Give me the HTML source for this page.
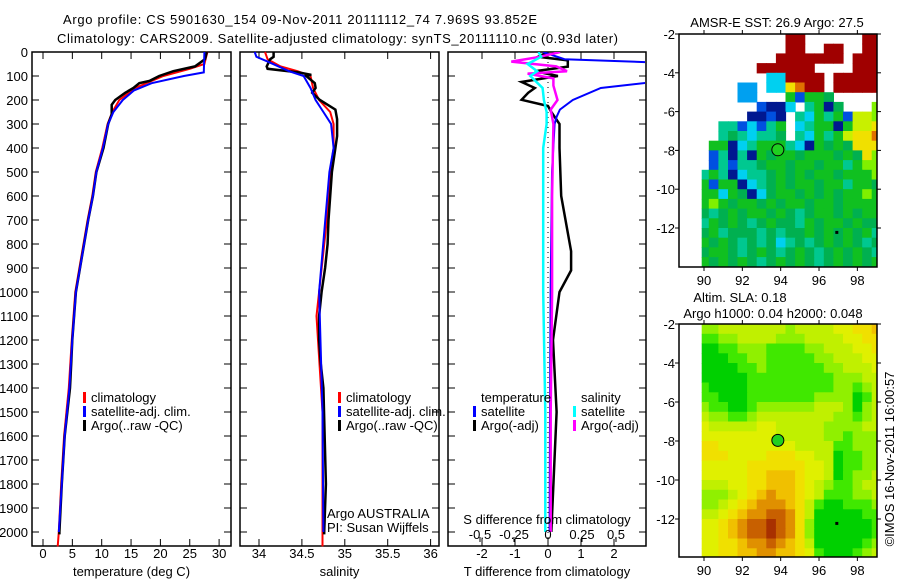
<!DOCTYPE html>
<html><head><meta charset="utf-8"><style>
body{margin:0;background:#fff;}
svg{display:block;font-family:"Liberation Sans",sans-serif;font-size:13px;}
</style></head><body>
<svg id="fig" width="900" height="580" viewBox="0 0 900 580" xmlns="http://www.w3.org/2000/svg">
<rect width="900" height="580" fill="#fff"/>
<text x="63" y="24" textLength="474">Argo profile: CS 5901630_154 09-Nov-2011 20111112_74 7.969S 93.852E</text>
<text x="57" y="43" textLength="561">Climatology: CARS2009. Satellite-adjusted climatology: synTS_20111110.nc (0.93d later)</text>
<g id="g"></g>
</svg>
<script>
// ---- depth grid ----
const depthTicks=[0,100,200,300,400,500,600,700,800,900,1000,1100,1200,1300,1400,1500,1600,1700,1800,1900,2000];
// ---- temperature panel ----
const tempTicks=[0,5,10,15,20,25,30];
const tArgoDepth=[0,30,60,80,100,120,130,150,170,200,220,260,300,400,500,600,700,800,900,1000,1100,1200,1300,1400,1600,1800,2000,2010];
const tArgo=[27.9,27.6,25.9,22.2,19.8,18.2,16.4,15.4,14.0,12.3,11.7,11.7,11.1,10.3,9.1,8.5,7.7,7.0,6.3,5.6,5.3,5.0,4.8,4.6,3.7,3.2,2.8,2.8];
const tClimDepth=[0,50,70,100,150,200,250,300,400,500,600,700,800,900,1000,1200,1400,1600,1800,2000,2060];
const tClim=[28.0,27.5,25.0,20.5,15.7,13.0,11.8,11.0,10.1,9.0,8.4,7.6,6.9,6.2,5.5,4.9,4.4,3.6,3.1,2.7,2.5];
const tSatDepth=[0,85,100,130,160,200,250,300,400,500,600,700,800,900,1000,1200,1400,1600,1800,2000];
const tSat=[27.5,27.4,24.0,18.5,15.5,13.6,12.0,11.1,10.2,9.1,8.5,7.7,7.0,6.3,5.6,5.0,4.5,3.7,3.2,2.7];
// ---- salinity panel ----
const salTicks=[34,34.5,35,35.5,36];
const sArgoDepth=[0,20,30,60,70,85,95,100,130,150,170,200,240,280,350,400,500,600,700,800,900,1000,1100,1200,1300,1400,1800,2000,2010];
const sArgo=[34.17,34.17,34.13,34.09,34.10,34.46,34.61,34.55,34.65,34.66,34.62,34.71,34.89,34.91,34.91,34.89,34.85,34.83,34.81,34.80,34.77,34.73,34.70,34.70,34.72,34.75,34.78,34.76,34.76];
const sClimDepth=[0,30,60,80,100,150,200,250,300,400,500,700,1000,1100,1500,2000,2060];
const sClim=[34.07,34.10,34.25,34.45,34.60,34.63,34.70,34.83,34.87,34.87,34.83,34.79,34.70,34.67,34.74,34.74,34.74];
const sSatDepth=[0,20,40,80,100,150,200,250,300,400,500,1000,1500,2000];
const sSat=[33.95,33.97,34.10,34.35,34.52,34.60,34.66,34.75,34.84,34.87,34.82,34.70,34.74,34.75];
// ---- difference panel ----
const dtTicks=[-2,-1,0,1,2];
const dsTicks=[-0.5,-0.25,0,0.25,0.5];
const dsTickLabels=["-0.5","-0.25","0","0.25","0.5"];
const dTSatDepth=[0,30,45,100,125,150,200,240,270,300,500,1000,1500,2000];
const dTSat=[-0.15,0.5,3.5,4.0,3.2,1.6,0.75,0.36,0.26,0.2,0.12,0.08,0.06,0.05];
const dTArgoDepth=[0,20,35,61,80,100,125,150,170,199,225,250,300,400,600,830,910,1000,1200,1500,2000];
const dTArgo=[0,-0.3,0.6,0.6,-0.4,0.3,-0.8,-0.4,-0.6,-0.8,0,0.1,0.35,0.35,0.4,0.7,0.7,0.35,0.15,0.26,0.1];
const dSSatDepth=[0,20,50,80,100,150,200,250,300,400,1000,1500,2000];
const dSSat=[-0.07,-0.05,-0.15,-0.08,-0.13,-0.04,-0.03,-0.01,-0.01,-0.035,-0.035,-0.02,-0.02];
const dSArgoDepth=[0,20,40,60,80,90,110,140,200,240,300,600,1000,1500,2000];
const dSArgo=[0.09,-0.06,-0.27,0.06,0.14,-0.15,0.04,0.04,0.07,0.02,0.04,0.03,0.03,0.02,0.02];
// ---- maps ----
const lonTicks=[90,92,94,96,98];
const latTicks=[-2,-4,-6,-8,-10,-12];
const sstTitle="AMSR-E SST: 26.9 Argo: 27.5";
const sstGrid=[
".........RR......RR",
".........RR..RR..RR",
"........RRRRRRR.RRR",
"......RRRRRR....RRR",
".......ccRRRR.RRRRR",
"....bb.ccYORR.RRRRR",
"....bb...GBGGg.....",
"......BNNc.tGNg...L",
".....NNBN.tcGtGByyL",
"..ttBcBtG.ctGGNGyyY",
"..tgtcttg.tcGtGyYYO",
".GGNctGGGtcNGgGgYYY",
".BtNtNGgGGgGGGgGgYL",
".BtBttgGGgGGgGGtGLL",
"tGtNcttgGgGgGGgGGGL",
"GBGGNctgGgGGgGGtGGg",
"GGcGgNcgGGgGgGgGGLG",
"GLGgGGgGgGGgGGgGGGG",
"gtgGgGGgGgtgGGgGgGG",
"tGgGgtgGggtGgGGgGgg",
"gGtgggtgtggGgGgGgGt",
"GgGgtgtgctgtgGgGgtg",
"gGGgtgGgtgGgtgGgGgt",
"GgGgGgtgGgGgtgGgGgG"];
const slaGrid=[
"3344444443444455667",
"2233444433344445566",
"1122333222233444556",
"1112233222223344455",
"1111223222222334445",
"1111122222222233344",
"2111122222222233234",
"2211122222223333124",
"3221123333334443134",
"4332234444444433234",
"5444445544444333344",
"5555555544444332333",
"6655555555444422333",
"6665555666554412233",
"5555566666655412233",
"5555566777655412334",
"4445566777654322344",
"3334567877654222334",
"3345678887642112223",
"4456788998641111122",
"5567899A98631111112",
"5567899A98631111112",
"5566788987641111123",
"5566778877652111234"];
const argoLon=93.852, argoLat=-7.969;

const NS="http://www.w3.org/2000/svg";
const G=document.getElementById('g');
function mk(tag,attrs,parent){const e=document.createElementNS(NS,tag);for(const k in attrs)e.setAttribute(k,attrs[k]);(parent||G).appendChild(e);return e;}
function txt(s,x,y,anchor,parent){const t=mk('text',{x:x,y:y,'text-anchor':anchor||'start'},parent);t.textContent=s;return t;}

const Y0=52, DPX=0.24, YB=546;
const yD=d=>Y0+d*DPX;

function panel(name,x0,x1,xf,ticks,labels,xlabel){
  const g=mk('g',{});
  
  
  const fr=mk('rect',{x:x0,y:Y0,width:x1-x0,height:YB-Y0,fill:'none',stroke:'#000','stroke-width':1.5},g);
  
  
  depthTicks.forEach(d=>{
    mk('line',{x1:x0,x2:x0+7,y1:yD(d),y2:yD(d),stroke:'#000'},g);
    mk('line',{x1:x1,x2:x1-7,y1:yD(d),y2:yD(d),stroke:'#000'},g);
  });
  if(ticks){ticks.forEach((v,i)=>{
    const x=xf(v);
    mk('line',{x1:x,x2:x,y1:YB,y2:YB-7,stroke:'#000'},g);
    mk('line',{x1:x,x2:x,y1:Y0,y2:Y0+7,stroke:'#000'},g);
    const t=txt(labels?labels[i]:String(v),x,558,'middle',g);
    
    
  });}
  const xl=txt(xlabel,(x0+x1)/2,576,'middle',g);
  
  
  return g;
}
function line(g,depths,vals,xf,color,w,name){
  const pts=depths.map((d,i)=>xf(vals[i]).toFixed(1)+','+yD(d).toFixed(1)).join(' ');
  const p=mk('polyline',{points:pts,fill:'none',stroke:color,'stroke-width':w},g);
  
  
}
function legend(g,x,y,color,label,name){
  const r=mk('rect',{x:x,y:y-10,width:3,height:11,fill:color},g);
  
  
  const t=txt(label,x+8,y,'start',g);
  
  
}

depthTicks.forEach(d=>{
  const t=txt(String(d),28,yD(d)+5,'end');
  
  
});

const xT=v=>43+v*5.87;
const pT=panel('temperature',32,231,xT,tempTicks,null,'temperature (deg C)');
line(pT,tClimDepth,tClim,xT,'#f00',2,'temp-climatology-line');
line(pT,tArgoDepth,tArgo,xT,'#000',2.5,'temp-argo-line');
line(pT,tSatDepth,tSat,xT,'#00f',2,'temp-satellite-line');
legend(pT,83,402,'#f00','climatology','temp-legend-climatology');
legend(pT,83,416,'#00f','satellite-adj. clim.','temp-legend-satellite');
legend(pT,83,430,'#000','Argo(..raw -QC)','temp-legend-argo');

const xS=v=>259+(v-34)*85.8;
const pS=panel('salinity',240,439,xS,salTicks,null,'salinity');
line(pS,sClimDepth,sClim,xS,'#f00',2,'sal-climatology-line');
line(pS,sArgoDepth,sArgo,xS,'#000',2.5,'sal-argo-line');
line(pS,sSatDepth,sSat,xS,'#00f',2,'sal-satellite-line');
legend(pS,338,402,'#f00','climatology','sal-legend-climatology');
legend(pS,338,416,'#00f','satellite-adj. clim.','sal-legend-satellite');
legend(pS,338,430,'#000','Argo(..raw -QC)','sal-legend-argo');
const a1=txt('Argo AUSTRALIA',327,518,'start',pS);


const a2=txt('PI: Susan Wijffels',327,532,'start',pS);



const xDT=v=>548+v*33;
const xDS=v=>548+v*136;
const pD=panel('difference',448,646,xDT,dtTicks,null,'T difference from climatology');
const clip=mk('clipPath',{id:'dclip'},pD);
mk('rect',{x:449,y:Y0,width:196,height:YB-Y0},clip);
const dl=mk('g',{'clip-path':'url(#dclip)'},pD);
mk('line',{x1:548,x2:548,y1:Y0,y2:YB,stroke:'#000','stroke-dasharray':'1,4'},dl);
line(dl,dTArgoDepth,dTArgo,xDT,'#000',2.5,'diff-t-argo-line');
line(dl,dTSatDepth,dTSat,xDT,'#00f',2,'diff-t-satellite-line');
line(dl,dSArgoDepth,dSArgo,xDS,'#f0f',2.5,'diff-s-argo-line');
line(dl,dSSatDepth,dSSat,xDS,'#0ff',2.5,'diff-s-satellite-line');
dsTicks.forEach((v,i)=>{
  const x=xDS(v);
  mk('line',{x1:x,x2:x,y1:YB-4,y2:YB-9,stroke:'#000'},pD);
  const t=txt(dsTickLabels[i],x,539,'middle',pD);
  
  
});
const st=txt('S difference from climatology',547,524,'middle',pD);


const lt=txt('temperature',481,402,'start',pD);


const ls=txt('salinity',581,402,'start',pD);


legend(pD,473,416,'#00f','satellite','diff-legend-t-satellite');
legend(pD,473,430,'#000','Argo(-adj)','diff-legend-t-argo');
legend(pD,573,416,'#0ff','satellite','diff-legend-s-satellite');
legend(pD,573,430,'#f0f','Argo(-adj)','diff-legend-s-argo');

const sstColors={R:'#a00000',O:'#e07000',Y:'#f0e000',y:'#c8f000',L:'#80f000',G:'#10c020',g:'#00b050',t:'#00c890',c:'#00d0f0',b:'#00a0f0',B:'#0050e0',N:'#001890'};
const slaColors={'1':'#00d000','2':'#40e800','3':'#90f000','4':'#c0f000','5':'#e0f000','6':'#f0e000','7':'#f0c000','8':'#e09000','9':'#c86000','A':'#a83000'};
function map(name,top,bottom,grid,colors){
  const L=679,R=877;
  const xL=lon=>704+(lon-90)*19.17;
  const yL=lat=>top+(-2-lat)*((top===34)?19.4:19.5);
  const g=mk('g',{});
  
  
  const cid=name+'-clip';
  const cp=mk('clipPath',{id:cid},g);
  mk('rect',{x:L,y:top,width:R-L,height:bottom-top},cp);
  const cells=mk('g',{'clip-path':'url(#'+cid+')'},g);
  grid.forEach((row,r)=>{
    for(let k=0;k<row.length;k++){
      const ch=row[k]; if(ch==='.')continue;
      const lon=90+0.5*k, lat=-2.25-0.5*r;
      const lon0=Math.max(lon-0.25,89.88);
      const x0=xL(lon0), x1=xL(lon+0.25);
      const y0=yL(lat+0.25), y1=yL(lat-0.25);
      const c=mk('rect',{x:x0.toFixed(1),y:y0.toFixed(1),width:(x1-x0+0.6).toFixed(1),height:(y1-y0+0.6).toFixed(1),fill:colors[ch]},cells);
      
      
    }
  });
  mk('rect',{x:L,y:top,width:R-L,height:bottom-top,fill:'none',stroke:'#000','stroke-width':1.5},g);
  lonTicks.forEach(v=>{
    const x=xL(v);
    mk('line',{x1:x,x2:x,y1:top,y2:top-4,stroke:'#000'},g);
    mk('line',{x1:x,x2:x,y1:bottom,y2:bottom+4,stroke:'#000'},g);
    const t=txt(String(v),x,bottom+18,'middle',g);
    
    
  });
  latTicks.forEach(v=>{
    const y=yL(v);
    mk('line',{x1:L,x2:L-4,y1:y,y2:y,stroke:'#000'},g);
    mk('line',{x1:R,x2:R+4,y1:y,y2:y,stroke:'#000'},g);
    const t=txt(String(v),675,y+5,'end',g);
    
    
  });
  const m=mk('circle',{cx:xL(argoLon),cy:yL(argoLat),r:6,fill:'#20d020',stroke:'#000','stroke-width':1},g);
  
  
  mk('rect',{x:xL(96.85),y:yL(-12.15),width:3,height:3,fill:'#000'},g);
  return g;
}
const m1=map('sst-map',34,267,sstGrid,sstColors);
const t1=txt(sstTitle,777,27,'middle',m1);


const m2=map('sla-map',324,557,slaGrid,slaColors);
const t2=txt('Altim. SLA: 0.18',740,302,'middle',m2);


const t3=txt('Argo h1000: 0.04 h2000: 0.048',773,318,'middle',m2);


const cr=txt('©IMOS 16-Nov-2011 16:00:57',0,0,'middle');
cr.setAttribute('transform','translate(894,459) rotate(-90)');


</script>
</body></html>
